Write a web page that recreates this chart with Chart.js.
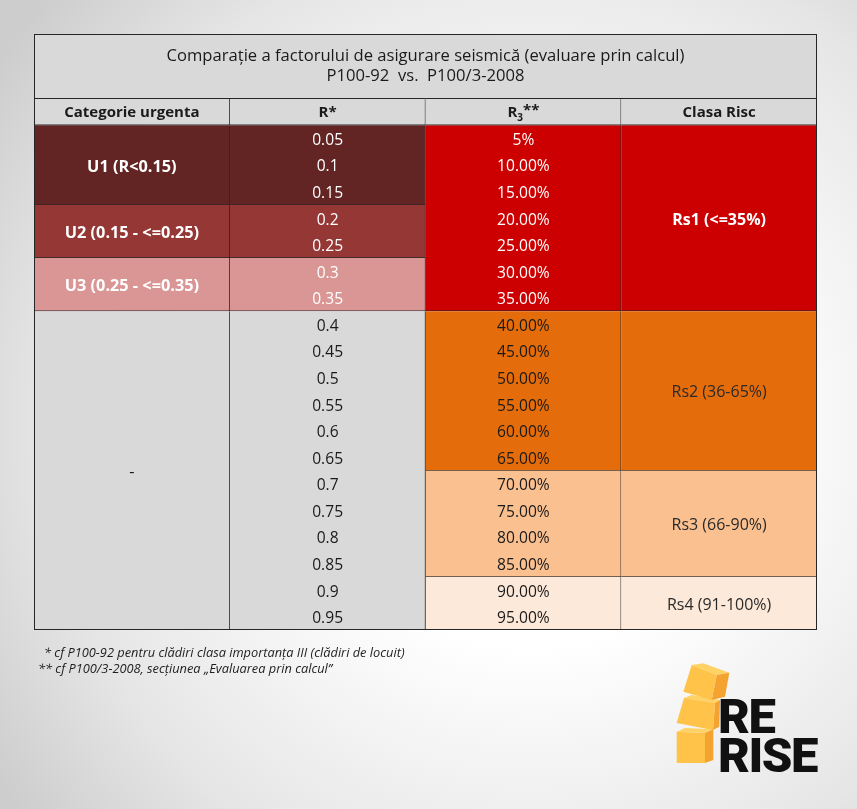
<!DOCTYPE html>
<html>
<head>
<meta charset="utf-8">
<script src="https://cdn.jsdelivr.net/npm/chart.js@4.4.1/dist/chart.umd.min.js"></script>
<style>
  html, body { margin: 0; padding: 0; }
  body {
    width: 857px; height: 809px; overflow: hidden; position: relative;
    background: radial-gradient(ellipse 75% 80% at 62% 52%, #ffffff 35%, #e6e6e6 75%, #cdcdcd 100%);
    font-family: "Open Sans", sans-serif;
  }
  #wrap { position: absolute; left: 0; top: 0; width: 857px; height: 809px; }
  .note { position: absolute; font-style: italic; font-size: 12.8px; line-height: 16px; color: #1e1e1e; white-space: pre; }
  .logo-text { position: absolute; font-family: Roboto, "Inter", sans-serif; font-weight: 900; font-size: 49px; line-height: 1; color: #111; letter-spacing: -1.5px; }
</style>
</head>
<body>
<div id="wrap"><canvas id="seismicTable"></canvas></div>

<div class="note" style="left:44px; top:644px;">* cf P100-92 pentru clădiri clasa importanța III (clădiri de locuit)</div>
<div class="note" style="left:38px; top:660px;">** cf P100/3-2008, secțiunea „Evaluarea prin calcul”</div>

<svg style="position:absolute; left:660px; top:650px;" width="70" height="125" viewBox="660 650 70 125">
  <!-- bottom cube -->
  <polygon points="676.7,731.7 685,728 713.3,729.3 705,733" fill="#ffd266"/>
  <polygon points="705,733 713.3,729.3 713.3,760 705,763" fill="#f4a330"/>
  <polygon points="676.7,731.7 705,733 705,763 676.7,763" fill="#fec348"/>
  <!-- middle cube -->
  <polygon points="684,698 691.7,695 720,700 715,703" fill="#ffd266"/>
  <polygon points="715,703 720,700 719.3,726.7 713,730" fill="#f4a330"/>
  <polygon points="684,698 715,703 713,730 676.7,723" fill="#fec348"/>
  <!-- top cube -->
  <polygon points="691.7,665 703.3,663.3 729.3,672.7 716.7,675" fill="#ffd266"/>
  <polygon points="716.7,675 729.3,672.7 725,696.7 711.7,700" fill="#f4a330"/>
  <polygon points="691.7,665 716.7,675 711.7,700 683.3,691.7" fill="#fec348"/>
</svg>
<div class="logo-text" style="left:718px; top:692px;">RE</div>
<div class="logo-text" style="left:718px; top:731px;">RISE</div>

<script>
// ---- data ----
const titleLines = ['Comparație a factorului de asigurare seismică (evaluare prin calcul)', 'P100-92  vs.  P100/3-2008'];
const columns = ['Categorie urgenta', 'R*', 'R3**', 'Clasa Risc'];
const rFactors = ['0.05', '0.1', '0.15', '0.2', '0.25', '0.3', '0.35', '0.4', '0.45', '0.5',
  '0.55', '0.6', '0.65', '0.7', '0.75', '0.8', '0.85', '0.9', '0.95'];
const r3Values = ['5%', '10.00%', '15.00%', '20.00%', '25.00%', '30.00%', '35.00%', '40.00%', '45.00%', '50.00%',
  '55.00%', '60.00%', '65.00%', '70.00%', '75.00%', '80.00%', '85.00%', '90.00%', '95.00%'];
const urgencyGroups = ['U1 (R<0.15)', 'U2 (0.15 - <=0.25)', 'U3 (0.25 - <=0.35)', '-'];
const urgencyRows = [[0, 3], [3, 5], [5, 7], [7, 19]];
const riskGroups = ['Rs1 (<=35%)', 'Rs2 (36-65%)', 'Rs3 (66-90%)', 'Rs4 (91-100%)'];
const riskRows = [[0, 7], [7, 13], [13, 17], [17, 19]];

// ---- styles ----
const urgencyColors = ['#632523', '#953735', '#da9694', '#d9d9d9'];
const riskColors = ['#cc0000', '#e46c0a', '#fac090', '#fde9d9'];
const urgencyBold = [true, true, true, false];
const riskBold = [true, false, false, false];
const lightGroupsUntil = 7;   // rows above this sit on dark fills -> white text
const greyFill = '#d9d9d9';
const lineColor = '#262626';
const titleTop = -3.43;
const fontFam = '"Open Sans", sans-serif';
const textDrop = 2;

function groupBars(groups, rows, colA, colB) {
  const out = [];
  rows.forEach(r => {
    out.push({ x: columns[colA], y: r });
    out.push({ x: columns[colB], y: r });
  });
  return out;
}
function doubled(arr) { return arr.flatMap(c => [c, c]); }

const cellBorder = { top: 0, left: 0, right: 1, bottom: 1 };

const tableTextPlugin = {
  id: 'tableText',
  beforeDatasetsDraw(chart) {
    const { ctx, chartArea, scales } = chart;
    const yTop = scales.y.getPixelForValue(titleTop);
    const yBot = scales.y.getPixelForValue(-1);
    ctx.save();
    ctx.fillStyle = greyFill;
    ctx.fillRect(chartArea.left, yTop, chartArea.right - chartArea.left, yBot - yTop);
    ctx.restore();
  },
  afterDatasetsDraw(chart) {
    const { ctx, chartArea, scales } = chart;
    const x = scales.x, y = scales.y;
    ctx.save();
    ctx.textAlign = 'center';
    ctx.textBaseline = 'middle';

    // title
    const yTop = y.getPixelForValue(titleTop);
    const yBot = y.getPixelForValue(-1);
    const cx = (chartArea.left + chartArea.right) / 2;
    const cy = (yTop + yBot) / 2;
    ctx.fillStyle = '#1a1a1a';
    ctx.font = '16.6px ' + fontFam;
    ctx.fillText(titleLines[0], cx, cy - 10);
    ctx.fillText(titleLines[1], cx, cy + 10);

    // header
    ctx.font = 'bold 15px ' + fontFam;
    const hy = y.getPixelForValue(-0.5) + 1;
    columns.forEach((c, i) => {
      const px = x.getPixelForValue(i);
      if (c === 'R3**') {
        const wR = ctx.measureText('R').width;
        ctx.font = 'bold 10px ' + fontFam;
        const w3 = ctx.measureText('3').width;
        ctx.font = 'bold 15px ' + fontFam;
        const wS = ctx.measureText('**').width;
        let sx = px - (wR + w3 + wS) / 2;
        ctx.textAlign = 'left';
        ctx.fillText('R', sx, hy);
        ctx.font = 'bold 10px ' + fontFam;
        ctx.fillText('3', sx + wR, hy + 5);
        ctx.font = 'bold 15px ' + fontFam;
        ctx.fillText('**', sx + wR + w3, hy - 2);
        ctx.textAlign = 'center';
      } else {
        ctx.fillText(c, px, hy);
      }
    });

    // per-row values
    ctx.font = '15.6px ' + fontFam;
    rFactors.forEach((v, i) => {
      const py = y.getPixelForValue(i + 0.5) + textDrop;
      ctx.fillStyle = i < lightGroupsUntil ? '#ffffff' : '#1a1a1a';
      ctx.fillText(v, x.getPixelForValue(1), py);
      ctx.fillText(r3Values[i], x.getPixelForValue(2), py);
    });

    // merged group labels
    urgencyGroups.forEach((g, i) => {
      const py = y.getPixelForValue((urgencyRows[i][0] + urgencyRows[i][1]) / 2) + textDrop;
      ctx.font = (urgencyBold[i] ? 'bold ' : '') + '16.3px ' + fontFam;
      ctx.fillStyle = urgencyRows[i][1] <= lightGroupsUntil ? '#ffffff' : '#1a1a1a';
      ctx.fillText(g, x.getPixelForValue(0), py);
    });
    riskGroups.forEach((g, i) => {
      const py = y.getPixelForValue((riskRows[i][0] + riskRows[i][1]) / 2) + textDrop;
      ctx.font = (riskBold[i] ? 'bold ' : '') + '16px ' + fontFam;
      ctx.fillStyle = riskRows[i][1] <= lightGroupsUntil ? '#ffffff' : '#2a2a2a';
      ctx.fillText(g, x.getPixelForValue(3), py);
    });

    // outer frame + title underline
    ctx.strokeStyle = lineColor;
    ctx.lineWidth = 1;
    ctx.strokeRect(chartArea.left + 0.5, yTop + 0.5, chartArea.right - chartArea.left - 1, chartArea.bottom - yTop - 1);
    ctx.beginPath();
    ctx.moveTo(chartArea.left, Math.round(yBot) - 0.5);
    ctx.lineTo(chartArea.right, Math.round(yBot) - 0.5);
    ctx.stroke();
    ctx.restore();
  }
};

new Chart(document.getElementById('seismicTable'), {
  type: 'bar',
  data: {
    labels: columns,
    datasets: [
      {
        label: 'header',
        data: columns.map(c => ({ x: c, y: [-1, 0] })),
        backgroundColor: greyFill
      },
      {
        label: 'urgency',
        data: groupBars(urgencyGroups, urgencyRows, 0, 1),
        backgroundColor: doubled(urgencyColors)
      },
      {
        label: 'risk',
        data: groupBars(riskGroups, riskRows, 2, 3),
        backgroundColor: doubled(riskColors)
      }
    ]
  },
  plugins: [tableTextPlugin],
  options: {
    responsive: true,
    maintainAspectRatio: false,
    animation: false,
    layout: { padding: { left: 34, right: 40, top: 34, bottom: 179 } },
    datasets: {
      bar: {
        grouped: false,
        barPercentage: 1,
        categoryPercentage: 1,
        borderColor: lineColor,
        borderWidth: cellBorder,
        borderSkipped: false
      }
    },
    plugins: { legend: { display: false }, tooltip: { enabled: false }, title: { display: false } },
    scales: {
      x: { type: 'category', display: false, offset: true },
      y: { type: 'linear', display: false, min: titleTop, max: 19, reverse: true }
    }
  }
});
</script>
</body>
</html>
